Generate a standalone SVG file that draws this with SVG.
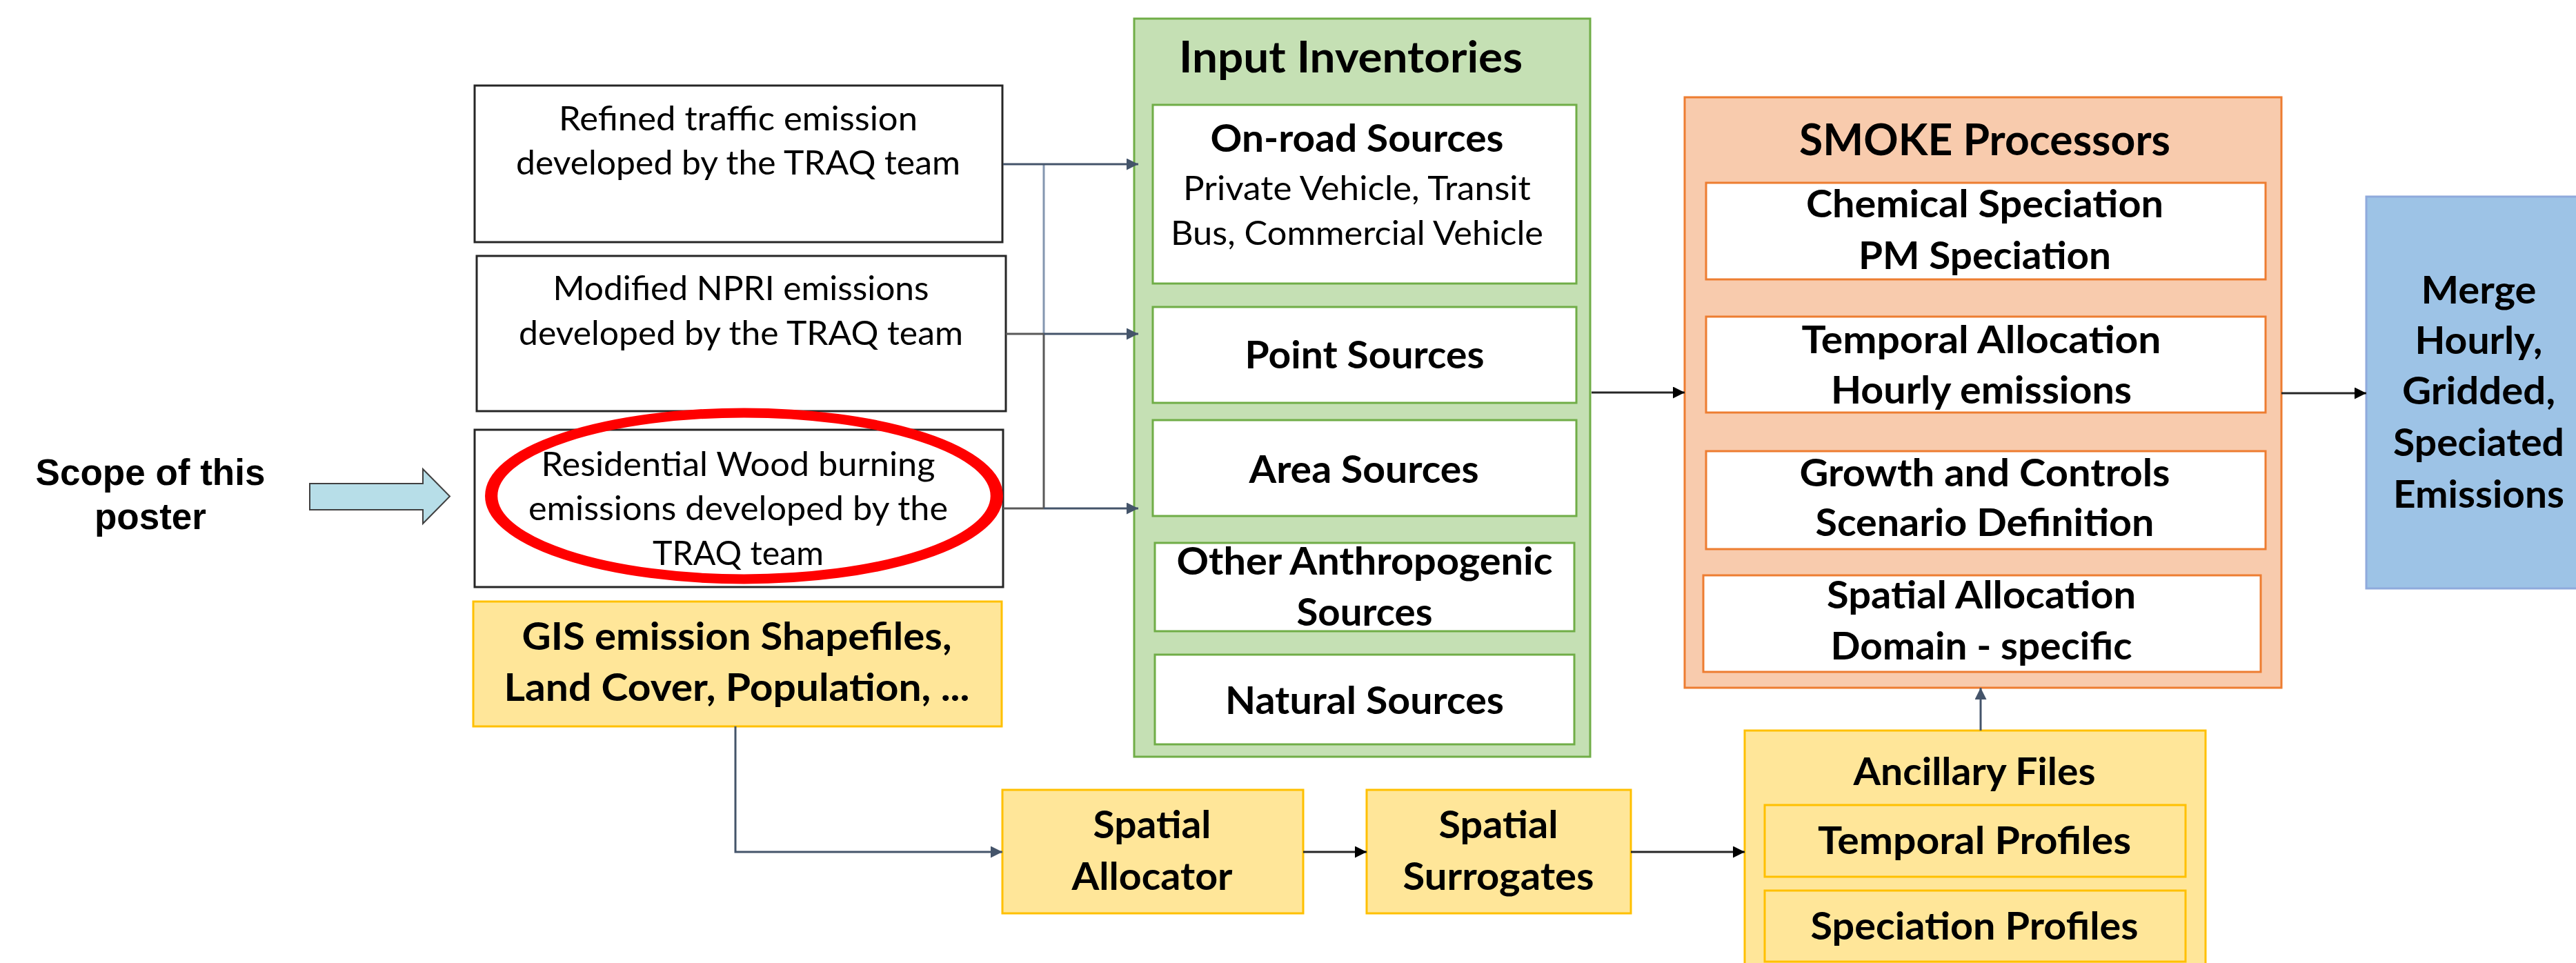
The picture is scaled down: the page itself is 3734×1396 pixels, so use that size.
<svg xmlns="http://www.w3.org/2000/svg" width="3734" height="1396" viewBox="0 0 3734 1396">
<style>
text{font-family:Lato,Carlito,"Liberation Sans",sans-serif;fill:#000;text-anchor:middle}
.r{font-size:49px}
.b{font-size:55px;font-weight:bold}
.h{font-size:63px;font-weight:bold}
.ar{font-family:"Liberation Sans",Arial,sans-serif;font-size:53px;font-weight:bold}
.box{fill:#fff;stroke:#262626;stroke-width:3}
.yel{fill:#FFE699;stroke:#FFC000;stroke-width:3}
.grn{fill:#C5E0B4;stroke:#70AD47;stroke-width:3}
.gin{fill:#fff;stroke:#70AD47;stroke-width:3}
.org{fill:#F8CBAD;stroke:#ED7D31;stroke-width:3}
.oin{fill:#fff;stroke:#ED7D31;stroke-width:3}
.blu{fill:#9DC3E6;stroke:#8FAADC;stroke-width:3}
.c{fill:none;stroke:#44546A;stroke-width:3}
.cl{fill:none;stroke:#8497B0;stroke-width:3}
.cd{fill:none;stroke:#595959;stroke-width:3}
.k{fill:none;stroke:#262626;stroke-width:3}
</style>
<defs>
<marker id="as" viewBox="0 0 10 10" refX="10" refY="5" markerWidth="18" markerHeight="17" markerUnits="userSpaceOnUse" orient="auto"><path d="M0,0 L10,5 L0,10 z" fill="#44546A"/></marker>
<marker id="ak" viewBox="0 0 10 10" refX="10" refY="5" markerWidth="18" markerHeight="17" markerUnits="userSpaceOnUse" orient="auto"><path d="M0,0 L10,5 L0,10 z" fill="#000"/></marker>
</defs>
<rect width="3734" height="1396" fill="#fff"/>

<g id="scope">
<text class="ar" x="218" y="703">Scope of this</text>
<text class="ar" x="218" y="767">poster</text>
<polygon points="449,701 613,701 613,680 652,719.5 613,759 613,739 449,739" fill="#B7DEE8" stroke="#404040" stroke-width="2"/>
</g>

<g id="traffic">
<rect class="box" x="688" y="124" width="765" height="227"/>
<text class="r" x="1070" y="189" textLength="520" lengthAdjust="spacingAndGlyphs">Refined traffic emission</text>
<text class="r" x="1070" y="253" textLength="644" lengthAdjust="spacingAndGlyphs">developed by the TRAQ team</text>
</g>
<g id="npri">
<rect class="box" x="691" y="371" width="767" height="225"/>
<text class="r" x="1074" y="435" textLength="545" lengthAdjust="spacingAndGlyphs">Modified NPRI emissions</text>
<text class="r" x="1074" y="500" textLength="644" lengthAdjust="spacingAndGlyphs">developed by the TRAQ team</text>
</g>
<g id="wood">
<rect class="box" x="688" y="623" width="766" height="228"/>
<text class="r" x="1070" y="690" textLength="571" lengthAdjust="spacingAndGlyphs">Residential Wood burning</text>
<text class="r" x="1070" y="754" textLength="608" lengthAdjust="spacingAndGlyphs">emissions developed by the</text>
<text class="r" x="1070" y="819" textLength="248" lengthAdjust="spacingAndGlyphs">TRAQ team</text>
<ellipse cx="829.6" cy="718.9" rx="281.8" ry="120.5" transform="matrix(1.3,0,0,1,0,0)" fill="none" stroke="#FF0000" stroke-width="14"/>
</g>
<g id="gis">
<rect class="yel" x="686" y="872" width="766" height="181"/>
<text class="b" x="1068" y="942" textLength="623" lengthAdjust="spacingAndGlyphs">GIS emission Shapefiles,</text>
<text class="b" x="1068" y="1016" textLength="675" lengthAdjust="spacingAndGlyphs">Land Cover, Population, ...</text>
</g>

<g id="inventories">
<rect class="grn" x="1644" y="27" width="661" height="1070"/>
<text class="h" x="1958" y="105" textLength="498" lengthAdjust="spacingAndGlyphs">Input Inventories</text>
<rect class="gin" x="1671" y="152" width="614" height="259"/>
<text class="b" x="1967" y="220" textLength="425" lengthAdjust="spacingAndGlyphs">On-road Sources</text>
<text class="r" x="1967" y="290" textLength="504" lengthAdjust="spacingAndGlyphs">Private Vehicle, Transit</text>
<text class="r" x="1967" y="355" textLength="540" lengthAdjust="spacingAndGlyphs">Bus, Commercial Vehicle</text>
<rect class="gin" x="1671" y="445" width="614" height="139"/>
<text class="b" x="1978" y="534" textLength="347" lengthAdjust="spacingAndGlyphs">Point Sources</text>
<rect class="gin" x="1671" y="609" width="614" height="139"/>
<text class="b" x="1977" y="700" textLength="333" lengthAdjust="spacingAndGlyphs">Area Sources</text>
<rect class="gin" x="1674" y="787" width="608" height="128"/>
<text class="b" x="1978" y="833" textLength="545" lengthAdjust="spacingAndGlyphs">Other Anthropogenic</text>
<text class="b" x="1978" y="907" textLength="197" lengthAdjust="spacingAndGlyphs">Sources</text>
<rect class="gin" x="1674" y="949" width="608" height="130"/>
<text class="b" x="1978" y="1035" textLength="404" lengthAdjust="spacingAndGlyphs">Natural Sources</text>
</g>

<g id="smoke">
<rect class="org" x="2442" y="141" width="865" height="856"/>
<text class="h" x="2877" y="225" textLength="538" lengthAdjust="spacingAndGlyphs">SMOKE Processors</text>
<rect class="oin" x="2473" y="265" width="811" height="140"/>
<text class="b" x="2877" y="315" textLength="518" lengthAdjust="spacingAndGlyphs">Chemical Speciation</text>
<text class="b" x="2877" y="390" textLength="366" lengthAdjust="spacingAndGlyphs">PM Speciation</text>
<rect class="oin" x="2473" y="459" width="811" height="139"/>
<text class="b" x="2872" y="512" textLength="521" lengthAdjust="spacingAndGlyphs">Temporal Allocation</text>
<text class="b" x="2872" y="585" textLength="436" lengthAdjust="spacingAndGlyphs">Hourly emissions</text>
<rect class="oin" x="2473" y="654" width="811" height="142"/>
<text class="b" x="2877" y="705" textLength="537" lengthAdjust="spacingAndGlyphs">Growth and Controls</text>
<text class="b" x="2877" y="777" textLength="491" lengthAdjust="spacingAndGlyphs">Scenario Definition</text>
<rect class="oin" x="2469" y="834" width="808" height="140"/>
<text class="b" x="2872" y="882" textLength="448" lengthAdjust="spacingAndGlyphs">Spatial Allocation</text>
<text class="b" x="2872" y="956" textLength="437" lengthAdjust="spacingAndGlyphs">Domain - specific</text>
</g>

<g id="merge">
<rect class="blu" x="3430" y="285" width="330" height="568"/>
<text class="b" x="3593" y="440" textLength="167" lengthAdjust="spacingAndGlyphs">Merge</text>
<text class="b" x="3593" y="513" textLength="185" lengthAdjust="spacingAndGlyphs">Hourly,</text>
<text class="b" x="3593" y="586" textLength="222" lengthAdjust="spacingAndGlyphs">Gridded,</text>
<text class="b" x="3593" y="661" textLength="248" lengthAdjust="spacingAndGlyphs">Speciated</text>
<text class="b" x="3593" y="736" textLength="248" lengthAdjust="spacingAndGlyphs">Emissions</text>
</g>

<g id="allocator">
<rect class="yel" x="1453" y="1145" width="436" height="179"/>
<text class="b" x="1670" y="1215" textLength="171" lengthAdjust="spacingAndGlyphs">Spatial</text>
<text class="b" x="1670" y="1290" textLength="233" lengthAdjust="spacingAndGlyphs">Allocator</text>
</g>
<g id="surrogates">
<rect class="yel" x="1981" y="1145" width="383" height="179"/>
<text class="b" x="2172" y="1215" textLength="173" lengthAdjust="spacingAndGlyphs">Spatial</text>
<text class="b" x="2172" y="1290" textLength="277" lengthAdjust="spacingAndGlyphs">Surrogates</text>
</g>
<g id="ancillary">
<rect class="yel" x="2529" y="1059" width="668" height="360"/>
<text class="b" x="2862" y="1138" textLength="351" lengthAdjust="spacingAndGlyphs">Ancillary Files</text>
<rect class="yel" x="2558" y="1167" width="610" height="104"/>
<text class="b" x="2862" y="1238" textLength="454" lengthAdjust="spacingAndGlyphs">Temporal Profiles</text>
<rect class="yel" x="2558" y="1291" width="610" height="103"/>
<text class="b" x="2862" y="1362" textLength="475" lengthAdjust="spacingAndGlyphs">Speciation Profiles</text>
</g>

<g id="connectors">
<path class="cl" d="M1513,238 V484"/>
<path class="cd" d="M1513,484 V737"/>
<path class="c" d="M1454,238 H1650" marker-end="url(#as)"/>
<path class="cd" d="M1458,484 H1513"/>
<path class="c" d="M1513,484 H1650" marker-end="url(#as)"/>
<path class="cd" d="M1454,737 H1513"/>
<path class="c" d="M1513,737 H1650" marker-end="url(#as)"/>
<path class="k" d="M2307,569 H2442" marker-end="url(#ak)"/>
<path class="k" d="M3307,570 H3430" marker-end="url(#ak)"/>
<path class="c" d="M1066,1053 V1235 H1453" marker-end="url(#as)"/>
<path class="k" d="M1889,1235 H1981" marker-end="url(#ak)"/>
<path class="k" d="M2364,1235 H2529" stroke-width="4" marker-end="url(#ak)"/>
<path class="c" d="M2871,1059 V997" marker-end="url(#as)"/>
</g>
</svg>
